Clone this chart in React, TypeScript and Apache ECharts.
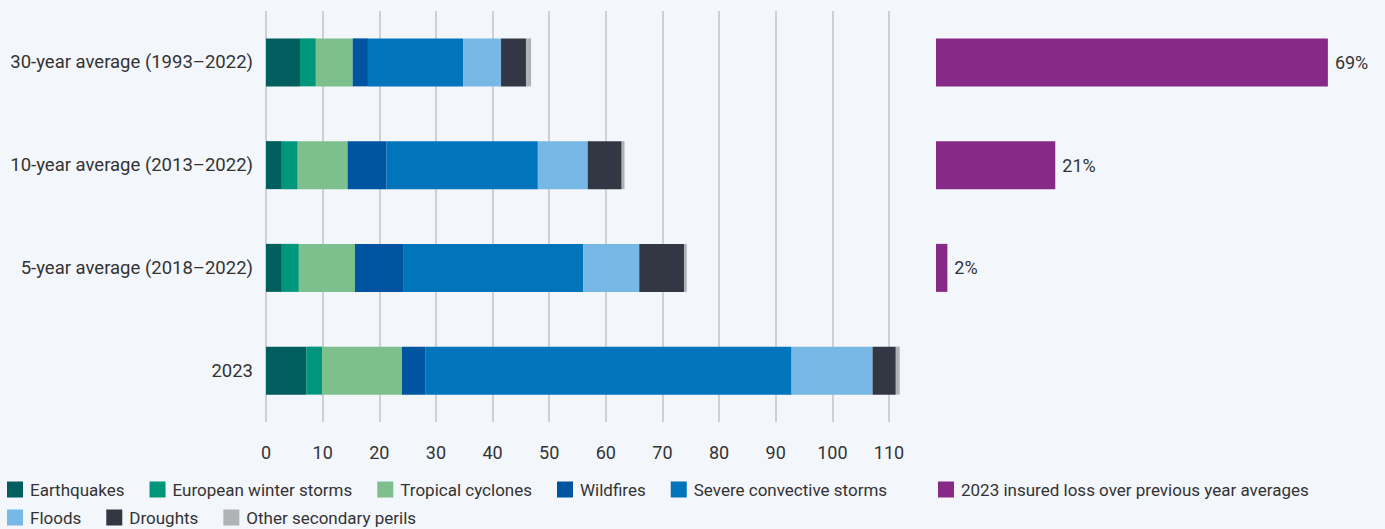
import React, { useEffect, useRef } from "react";
import * as echarts from "echarts";

const categories = [
  "30-year average (1993–2022)",
  "10-year average (2013–2022)",
  "5-year average (2018–2022)",
  "2023",
];
const earthquakes = [6.0, 2.8, 2.8, 7.1];
const europeanWinterStorms = [2.8, 2.8, 3.0, 2.8];
const tropicalCyclones = [6.5, 8.8, 9.9, 14.1];
const wildfires = [2.7, 6.9, 8.5, 4.2];
const severeConvectiveStorms = [16.8, 26.7, 31.8, 64.6];
const floods = [6.7, 8.8, 9.9, 14.3];
const droughts = [4.4, 6.0, 7.9, 4.1];
const otherSecondaryPerils = [0.9, 0.5, 0.5, 0.7];
const increase2023 = [69, 21, 2, null];

const xTicksMax = 110;
const xInterval = 10;

const perilNames = [
  "Earthquakes",
  "European winter storms",
  "Tropical cyclones",
  "Wildfires",
  "Severe convective storms",
  "Floods",
  "Droughts",
  "Other secondary perils",
];
const perilData = [
  earthquakes,
  europeanWinterStorms,
  tropicalCyclones,
  wildfires,
  severeConvectiveStorms,
  floods,
  droughts,
  otherSecondaryPerils,
];
const perilColors = [
  "#005f5e",
  "#00967b",
  "#7dc08e",
  "#0054a0",
  "#0075bb",
  "#78b8e6",
  "#323743",
  "#b0b3b6",
];
const increaseName = "2023 insured loss over previous year averages";

const FONT = "Roboto, 'Noto Sans', sans-serif";
const TEXT = "#333333";
const BG = "#f3f6fb";

export default function App() {
  const ref = useRef<HTMLDivElement>(null);
  useEffect(() => {
    document.body.style.margin = "0";
    document.body.style.background = BG;
    const chart = echarts.init(ref.current!, null, { renderer: "svg" });
    const legendCommon = {
      orient: "horizontal",
      padding: 0,
      itemWidth: 16,
      itemHeight: 16,
      itemGap: 25,
      icon: "rect",
      selectedMode: false,
      textStyle: { fontFamily: FONT, fontSize: 17, color: TEXT, padding: [0, 0, 0, 2] },
    };
    chart.setOption({
      animation: false,
      backgroundColor: BG,
      textStyle: { fontFamily: FONT },
      legend: [
        { ...legendCommon, left: 7, top: 481, data: perilNames.slice(0, 5) },
        { ...legendCommon, left: 7, top: 509, data: perilNames.slice(5) },
        { ...legendCommon, left: 938, top: 481, data: [increaseName] },
      ],
      grid: [
        { left: 266, top: 11, width: 623, height: 411 },
        { left: 936, top: 11, width: 443, height: 411 },
      ],
      xAxis: [
        {
          gridIndex: 0,
          type: "value",
          min: 0,
          max: xTicksMax,
          interval: xInterval,
          axisLine: { show: false },
          axisTick: { show: false },
          axisLabel: { fontFamily: FONT, fontSize: 18, color: TEXT, margin: 21 },
          splitLine: { show: true, lineStyle: { color: "#c0c3c8", width: 1.5 } },
        },
        {
          gridIndex: 1,
          type: "value",
          min: 0,
          max: 78,
          show: false,
          splitLine: { show: false },
        },
      ],
      yAxis: [
        {
          gridIndex: 0,
          type: "category",
          inverse: true,
          data: categories,
          axisLine: { show: false },
          axisTick: { show: false },
          axisLabel: { fontFamily: FONT, fontSize: 18.5, color: TEXT, margin: 13 },
        },
        {
          gridIndex: 1,
          type: "category",
          inverse: true,
          data: categories,
          show: false,
        },
      ],
      series: [
        ...perilNames.map((name, i) => ({
          name,
          type: "bar",
          stack: "losses",
          xAxisIndex: 0,
          yAxisIndex: 0,
          barWidth: 48,
          clip: false,
          data: perilData[i],
          itemStyle: { color: perilColors[i] },
          emphasis: { disabled: true },
        })),
        {
          name: increaseName,
          type: "bar",
          xAxisIndex: 1,
          yAxisIndex: 1,
          barWidth: 48,
          data: increase2023,
          itemStyle: { color: "#872a87" },
          emphasis: { disabled: true },
          label: {
            show: true,
            position: "right",
            distance: 7,
            formatter: "{c}%",
            fontFamily: FONT,
            fontSize: 18,
            color: TEXT,
          },
        },
      ],
    });
    return () => chart.dispose();
  }, []);
  return <div ref={ref} style={{ width: 1385, height: 529, background: BG }} />;
}
